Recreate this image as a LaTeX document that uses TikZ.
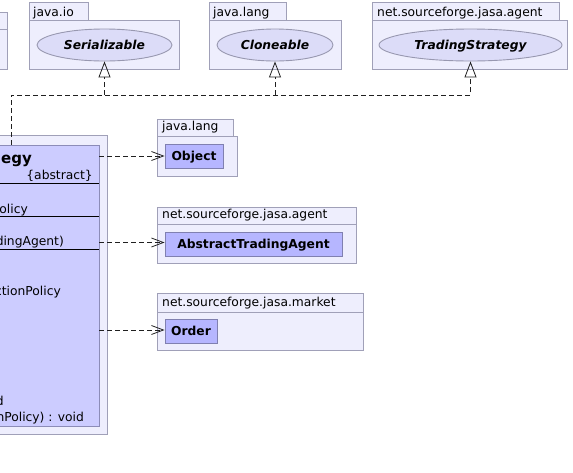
\documentclass[tikz,border=0pt]{standalone}
\usepackage{fontspec}
\setmainfont{DejaVu Sans}
\usetikzlibrary{shapes.geometric,arrows.meta}
\definecolor{pkgfill}{HTML}{EEEEFD}
\definecolor{pkgline}{HTML}{A0A0B8}
\definecolor{ellfill}{HTML}{DCDCF8}
\definecolor{ellline}{HTML}{9898B0}
\definecolor{mainfill}{HTML}{CCCCFF}
\definecolor{mainline}{HTML}{8C8CB8}
\definecolor{clsfill}{HTML}{B6B6FF}
\definecolor{clsline}{HTML}{8080B0}
\definecolor{conn}{HTML}{202020}
\begin{document}
\begin{tikzpicture}[x=1pt,y=-1pt,
  font=\fontsize{12.3}{14}\selectfont,
  pkg/.style={draw=pkgline,fill=pkgfill,line width=0.9pt},
  pkglbl/.style={anchor=base west,inner sep=0pt},
  iface/.style={ellipse,draw=ellline,fill=ellfill,line width=0.9pt,inner sep=0pt,
    minimum height=32pt,text height=9pt,text depth=0pt,font=\fontsize{12.3}{14}\selectfont\bfseries\itshape},
  refcls/.style={rectangle,draw=clsline,fill=clsfill,line width=0.9pt,inner sep=0pt,
    minimum height=24pt,text height=8pt,text depth=0pt,font=\fontsize{12.3}{14}\selectfont\bfseries},
  maincls/.style={rectangle,draw=mainline,fill=mainfill,line width=0.9pt,inner sep=0pt},
  memb/.style={anchor=base east,inner sep=0pt},
  realiz/.style={draw=conn,line width=0.8pt,dash pattern=on 5pt off 3pt,
    -{Triangle[open,length=16pt,width=12pt,line width=0.8pt]}},
  depend/.style={draw=conn,line width=0.8pt,dash pattern=on 5pt off 3pt,
    -{Straight Barb[length=12pt,width=9pt,line width=0.8pt]}}]
\useasboundingbox (0,0) rectangle (573,472);
\clip (0,0) rectangle (573,472);

% top packages
\draw[pkg] (-60,12) rectangle (7,69);
\draw[pkgline,line width=0.9pt] (-60,29) -- (7,29);

\draw[pkg] (29,2) rectangle (88,20);
\draw[pkg] (29,20) rectangle (179,69);
\node[pkglbl] (lio) at (33,16) {java.io};

\draw[pkg] (209,2) rectangle (286,20);
\draw[pkg] (209,20) rectangle (341,69);
\node[pkglbl] (llangtop) at (213,16) {java.lang};

\draw[pkg] (372,2) rectangle (559,20);
\draw[pkg] (372,20) rectangle (567,69);
\node[pkglbl] (lagenttop) at (377,16) {net.sourceforge.jasa.agent};

\node[iface,minimum width=135pt] (ser) at (104.5,45) {Serializable};
\node[iface,minimum width=116pt] (clo) at (275,45) {Cloneable};
\node[iface,minimum width=183pt] (ts) at (470.5,45) {TradingStrategy};

% main class and its package
\draw[pkg] (-320,135) rectangle (107,434);
\node[maincls,minimum width=376pt,minimum height=281pt] (cls) at (-89,285.5) {};
\draw[black,line width=0.9pt] (cls.west |- 0,183) -- (cls.east |- 0,183);
\draw[black,line width=0.9pt] (cls.west |- 0,216) -- (cls.east |- 0,216);
\draw[black,line width=0.9pt] (cls.west |- 0,249) -- (cls.east |- 0,249);
\node[memb,font=\fontsize{15}{17}\selectfont\bfseries] (title) at (32,163) {egy};
\node[memb] (abs) at (93,179) {\{abstract\}};
\node[memb] (m1) at (28,213) {olicy};
\node[memb] (m2) at (64,245.5) {dingAgent)};
\node[memb] (m3) at (61,295) {ctionPolicy};
\node[memb] (m4) at (4,405) {d};
\node[memb] (m5) at (84,421) {nPolicy) : void};

% right packages
\draw[pkg] (157,119) rectangle (233,136);
\draw[pkg] (157,136) rectangle (237,176);
\node[pkglbl] (llang) at (162,130) {java.lang};
\node[refcls,minimum width=58pt] (obj) at (194,156) {Object};

\draw[pkg] (157,207) rectangle (356,263);
\draw[pkgline,line width=0.9pt] (157,224) -- (356,224);
\node[pkglbl] (lagent) at (162,218.5) {net.sourceforge.jasa.agent};
\node[refcls,minimum width=177pt] (ata) at (253.5,244) {AbstractTradingAgent};

\draw[pkg] (157,293) rectangle (363,350);
\draw[pkgline,line width=0.9pt] (157,312) -- (363,312);
\node[pkglbl] (lmarket) at (162,306) {net.sourceforge.jasa.market};
\node[refcls,minimum width=52pt] (ord) at (191,331) {Order};

% realizations
\coordinate (bend) at (11,95);
\draw[realiz] (cls.north -| bend) -- (bend) -- (bend -| ts.south) -- (ts.south);
\draw[realiz] (bend -| ser.south) -- (ser.south);
\draw[realiz] (bend -| clo.south) -- (clo.south);

% dependencies
\draw[depend] (cls.east |- obj.west) -- (obj.west);
\draw[depend] (cls.east |- 0,242.5) -- (ata.west |- 0,242.5);
\draw[depend] (cls.east |- 0,330) -- (ord.west |- 0,330);
\end{tikzpicture}
\end{document}
